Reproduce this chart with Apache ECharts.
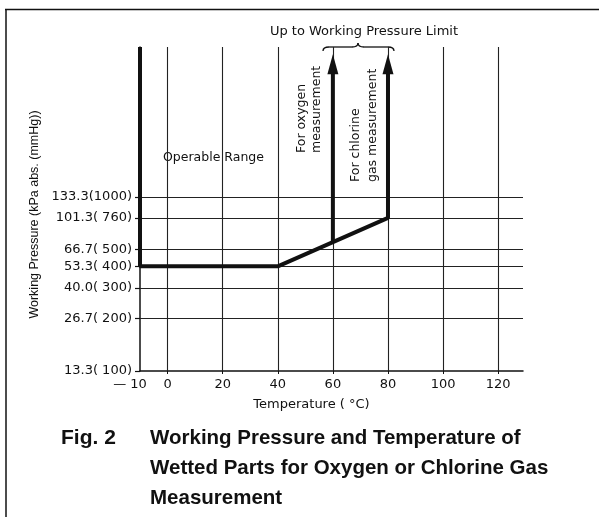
<!DOCTYPE html>
<html>
<head>
<meta charset="utf-8">
<script src="https://cdn.jsdelivr.net/npm/echarts@6/dist/echarts.min.js"></script>
<style>
  html, body { margin: 0; padding: 0; background: #fff; }
  #chart { width: 599px; height: 517px; }
</style>
</head>
<body>
<div id="chart"></div>
<script>
// x axis (temperature, degC)
const tempTicks = [-10, 0, 20, 40, 60, 80, 100, 120]
const tempGrid = [0, 20, 40, 60, 80, 100, 120]
// y axis (pressure, mmHg on log scale) and the kPa labels that go with them
const pressureTicks = [100, 200, 300, 400, 500, 760, 1000]
const kpaLabels = ['13.3', '26.7', '40.0', '53.3', '66.7', '101.3', '133.3']
const pressureGrid = [200, 300, 400, 500, 760, 1000]

// operable range boundary (left edge, floor, slope, chlorine limit going up)
const boundaryTemp = [-10, -10, 40, 80, 80]
const boundaryPressure = [7300, 400, 400, 760, 5800]
// oxygen limit going up from the slope
const oxygenTemp = [60, 60]
const oxygenPressure = [550, 5800]

const FONT = '"Liberation Sans", Arial, Helvetica, sans-serif'
const WIDE = '"DejaVu Sans", Verdana, sans-serif'
const INK = '#111'

const chart = echarts.init(document.getElementById('chart'))

const arrowPoint = (x, y, isTip) => isTip
  ? { value: [x, y], symbol: 'triangle', symbolSize: [11, 20], itemStyle: { color: INK } }
  : { value: [x, y], symbol: 'none' }

const boundaryData = boundaryTemp.map((t, i) =>
  arrowPoint(t, boundaryPressure[i], i === boundaryTemp.length - 1))
const oxygenData = oxygenTemp.map((t, i) =>
  arrowPoint(t, oxygenPressure[i], i === oxygenTemp.length - 1))

const labelFor = v => {
  const i = pressureTicks.indexOf(v)
  if (i < 0) return ''
  const mm = String(v)
  return kpaLabels[i] + '(' + (mm.length < 4 ? ' ' + mm : mm) + ')'
}

// one half of the curly brace: end curl, straight run, cusp
const braceHalf = (xEnd, xMid, dir) => [
  { type: 'bezierCurve', shape: { x1: xEnd, y1: 51, cpx1: xEnd, cpy1: 48, cpx2: xEnd + 2 * dir, cpy2: 47, x2: xEnd + 6 * dir, y2: 47 }, style: { stroke: INK, fill: null, lineWidth: 1.3 } },
  { type: 'line', shape: { x1: xEnd + 6 * dir, y1: 47, x2: xMid - 6 * dir, y2: 47 }, style: { stroke: INK, lineWidth: 1.3 } },
  { type: 'bezierCurve', shape: { x1: xMid - 6 * dir, y1: 47, cpx1: xMid - 2 * dir, cpy1: 47, cpx2: xMid, cpy2: 46, x2: xMid, y2: 43 }, style: { stroke: INK, fill: null, lineWidth: 1.3 } }
]

const option = {
  animation: false,
  backgroundColor: '#fff',
  grid: { left: 140, right: 76, top: 47, bottom: 146, outerBoundsMode: 'none' },
  xAxis: {
    type: 'value',
    min: -10,
    max: 129,
    name: 'Temperature ( °C)',
    nameLocation: 'middle',
    nameGap: 27,
    nameTextStyle: { color: INK, fontFamily: WIDE, fontSize: 13, padding: [0, 40, 0, 0] },
    axisLine: { show: true, onZero: false, lineStyle: { color: INK, width: 1.5 } },
    axisTick: { show: true, length: 3, customValues: tempGrid, lineStyle: { color: INK } },
    axisLabel: {
      color: INK, fontFamily: WIDE, fontSize: 13, margin: 7,
      customValues: tempTicks,
      formatter: v => v < 0 ? '{neg|\u2014 10}' : String(v),
      rich: { neg: { color: INK, fontFamily: WIDE, fontSize: 13, padding: [0, 20, 0, 0] } }
    },
    splitLine: { show: false }
  },
  yAxis: {
    type: 'log',
    logBase: 10,
    min: 100,
    max: 7300,
    name: 'Working Pressure (kPa abs. (mmHg))',
    nameLocation: 'middle',
    nameGap: 96,
    nameRotate: 90,
    nameTextStyle: { color: INK, fontFamily: FONT, fontSize: 12.5, padding: [0, 11, 0, 0] },
    axisLine: { show: true, onZero: false, lineStyle: { color: INK, width: 1.5 } },
    axisTick: { show: true, length: 5, customValues: pressureTicks, lineStyle: { color: INK, width: 1.2 } },
    axisLabel: {
      color: INK, fontFamily: WIDE, fontSize: 13, margin: 8,
      customValues: pressureTicks,
      formatter: labelFor
    },
    splitLine: { show: false }
  },
  series: [
    {
      name: 'Operable Range',
      type: 'line',
      data: boundaryData,
      lineStyle: { color: INK, width: 4 },
      itemStyle: { color: INK },
      z: 5,
      markLine: {
        silent: true,
        symbol: 'none',
        label: { show: false },
        lineStyle: { color: '#222', width: 1.1, type: 'solid' },
        data: [
          ...pressureGrid.map(v => ({ yAxis: v })),
          ...tempGrid.map(v => ({ xAxis: v }))
        ],
        z: 1
      }
    },
    {
      name: 'For oxygen measurement',
      type: 'line',
      data: oxygenData,
      lineStyle: { color: INK, width: 4 },
      itemStyle: { color: INK },
      z: 5
    }
  ],
  graphic: [
    // frame (top and left only, as in the scan)
    { type: 'line', shape: { x1: 5, y1: 9.5, x2: 599, y2: 9.5 }, style: { stroke: INK, lineWidth: 1.5 } },
    { type: 'line', shape: { x1: 6, y1: 9, x2: 6, y2: 517 }, style: { stroke: INK, lineWidth: 1.5 } },
    {
      type: 'text', x: 364, y: 32,
      style: { text: 'Up to Working Pressure Limit', font: '13px ' + WIDE, fill: INK, align: 'center', verticalAlign: 'middle' }
    },
    ...braceHalf(323, 358, 1),
    ...braceHalf(394, 358, -1),
    {
      type: 'text', x: 163, y: 158,
      style: { text: 'Operable Range', font: '12.5px ' + WIDE, fill: INK, align: 'left', verticalAlign: 'middle' }
    },
    {
      type: 'text', x: 309, y: 153, rotation: Math.PI / 2,
      style: { text: 'For oxygen\nmeasurement', font: '12.5px ' + WIDE, fill: INK, align: 'left', verticalAlign: 'middle', lineHeight: 15 }
    },
    {
      type: 'text', x: 364, y: 182, rotation: Math.PI / 2,
      style: { text: 'For chlorine\ngas measurement', font: '12.5px ' + WIDE, fill: INK, align: 'left', verticalAlign: 'middle', lineHeight: 17 }
    },
    {
      type: 'text', x: 61, y: 438,
      style: { text: 'Fig. 2', font: 'bold 21px ' + FONT, fill: INK, align: 'left', verticalAlign: 'middle' }
    },
    {
      type: 'text', x: 150, y: 423,
      style: {
        text: 'Working Pressure and Temperature of\nWetted Parts for Oxygen or Chlorine Gas\nMeasurement',
        font: 'bold 20.5px ' + FONT, fill: INK, align: 'left', verticalAlign: 'top', lineHeight: 30
      }
    }
  ]
}

chart.setOption(option)
</script>
</body>
</html>
